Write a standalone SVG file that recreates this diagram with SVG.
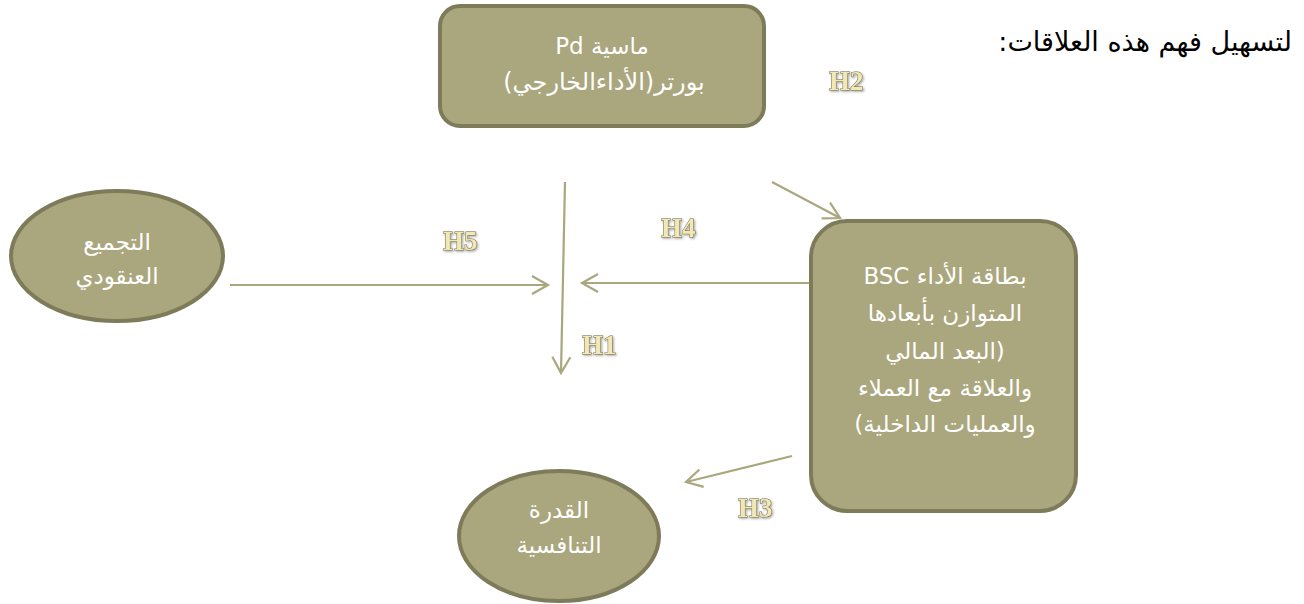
<svg xmlns="http://www.w3.org/2000/svg" width="1304" height="604" viewBox="0 0 1304 604">
  <defs>
    <style>
      .node { fill: #aaa67d; stroke: #7e7b5b; stroke-width: 4; }
      .lbl { font-family: "DejaVu Sans", "Noto Sans", sans-serif; font-size: 23px; fill: #ffffff; text-anchor: middle; direction: rtl; }
      .conn { stroke: #aaa67d; stroke-width: 2.2; fill: none; marker-end: url(#chev); }
      .hyp { font-family: "Liberation Serif", "DejaVu Serif", serif; font-size: 27px; font-weight: bold; fill: #f1e8b6; stroke: #6e6845; stroke-width: 1; paint-order: stroke; filter: url(#shadow); }
      .title { font-family: "DejaVu Sans", "Noto Sans", sans-serif; font-size: 27px; fill: #000000; direction: rtl; text-anchor: start; }
    </style>
    <marker id="chev" markerWidth="22" markerHeight="22" refX="19" refY="11" orient="auto" markerUnits="userSpaceOnUse">
      <path d="M3,2 L19,11 L3,20" fill="none" stroke="#aaa67d" stroke-width="2.2"/>
    </marker>
    <filter id="shadow" x="-20%" y="-20%" width="150%" height="150%">
      <feDropShadow dx="1.2" dy="1.2" stdDeviation="0.8" flood-color="#000" flood-opacity="0.35"/>
    </filter>
  </defs>

  <!-- heading -->
  <text class="title" x="1292" y="51">لتسهيل فهم هذه العلاقات:</text>

  <!-- connectors -->
  <g id="connectors">
    <line class="conn" x1="565" y1="182" x2="561" y2="373"/>
    <line class="conn" x1="230" y1="285" x2="548" y2="285"/>
    <line class="conn" x1="810" y1="283" x2="582" y2="283"/>
    <line class="conn" x1="772" y1="182" x2="840" y2="218"/>
    <line class="conn" x1="792" y1="456" x2="686" y2="482"/>
  </g>

  <!-- hypothesis labels -->
  <g id="labels">
    <text class="hyp" x="829" y="90">H2</text>
    <text class="hyp" x="443" y="250">H5</text>
    <text class="hyp" x="661" y="237">H4</text>
    <text class="hyp" x="582" y="354">H1</text>
    <text class="hyp" x="738" y="517">H3</text>
  </g>

  <g id="node-porter">
    <rect class="node" x="440" y="6" width="324" height="120" rx="20" ry="20"/>
    <text class="lbl" x="602" y="54">ماسية Pd</text>
    <text class="lbl" x="604" y="90" style="font-size:24px">بورتر(الأداءالخارجي)</text>
  </g>

  <g id="node-bsc">
    <rect class="node" x="811" y="221" width="265" height="290" rx="36" ry="36"/>
    <text class="lbl" x="945" y="284">بطاقة الأداء BSC</text>
    <text class="lbl" x="945" y="321">المتوازن بأبعادها</text>
    <text class="lbl" x="945" y="359">(البعد المالي</text>
    <text class="lbl" x="945" y="396">والعلاقة مع العملاء</text>
    <text class="lbl" x="945" y="432">والعمليات الداخلية)</text>
  </g>

  <g id="node-cluster">
    <ellipse class="node" cx="117" cy="256" rx="106" ry="65"/>
    <text class="lbl" x="117" y="250">التجميع</text>
    <text class="lbl" x="117" y="284">العنقودي</text>
  </g>

  <g id="node-competitive">
    <ellipse class="node" cx="559" cy="536" rx="100" ry="65"/>
    <text class="lbl" x="559" y="518">القدرة</text>
    <text class="lbl" x="559" y="553">التنافسية</text>
  </g>
</svg>
